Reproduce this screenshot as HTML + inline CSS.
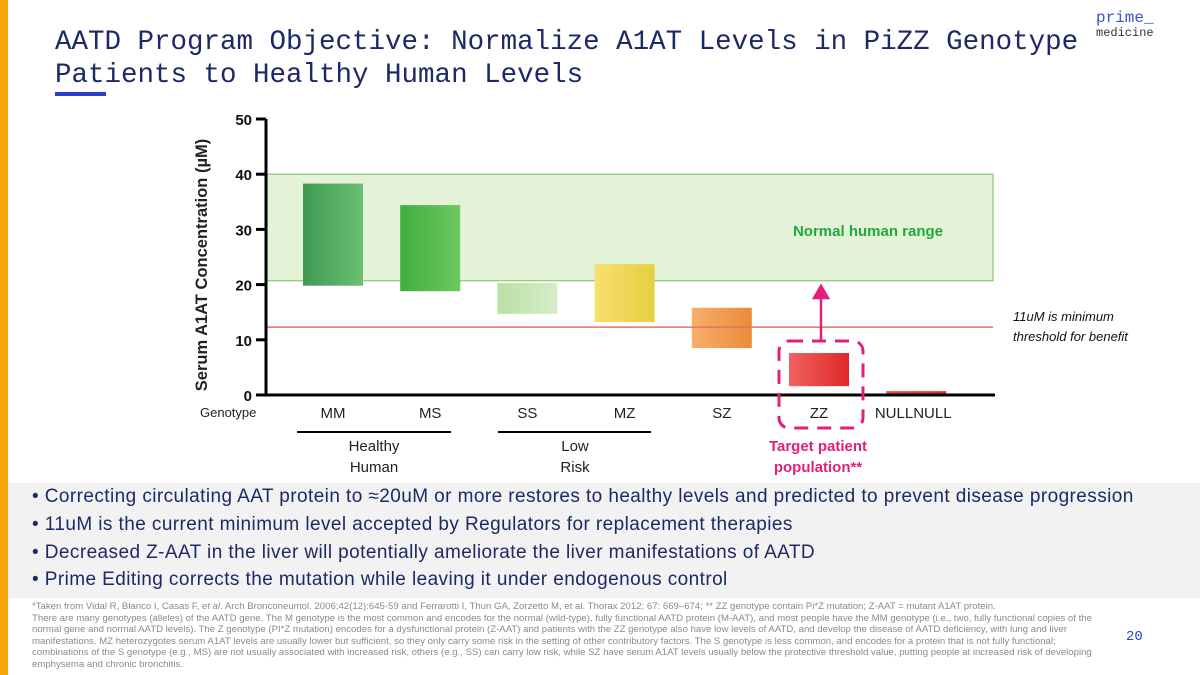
<!DOCTYPE html>
<html><head><meta charset="utf-8"><style>
body{margin:0;width:1200px;height:675px;position:relative;background:#fff;font-family:"Liberation Sans",sans-serif;overflow:hidden}
.abs{position:absolute}
#title{left:55px;top:26px;font-family:"Liberation Mono",monospace;font-size:27.5px;line-height:33px;color:#1b2a66;margin:0;font-weight:normal}
.bul{left:32px;font-size:19px;color:#1b2a66;white-space:nowrap;letter-spacing:0.42px}
#foot{left:32px;top:601px;width:1082px;font-size:9.6px;line-height:11.6px;color:#8a8a8a}
</style></head><body>
<div class="abs" style="left:0;top:0;width:8px;height:675px;background:#f5a30a"></div>
<h1 id="title" class="abs">AATD Program Objective: Normalize A1AT Levels in PiZZ Genotype<br>Patients to Healthy Human Levels</h1>
<div class="abs" style="left:55px;top:92px;width:51px;height:4px;background:#2a3fd0"></div>
<div class="abs" style="left:1096px;top:11px;font-family:'Liberation Mono',monospace;line-height:15px">
<div style="color:#3b4fd8;font-size:16px">prime_</div><div style="color:#333;font-size:12px">medicine</div></div>
<div class="abs" style="left:8px;top:483px;width:1192px;height:115px;background:#f2f2f2"></div>
<div class="abs bul" style="top:486px">• Correcting circulating AAT protein to ≈20uM or more restores to healthy levels and predicted to prevent disease progression</div>
<div class="abs bul" style="top:514px">• 11uM is the current minimum level accepted by Regulators for replacement therapies</div>
<div class="abs bul" style="top:542px">• Decreased Z-AAT in the liver will potentially ameliorate the liver manifestations of AATD</div>
<div class="abs bul" style="top:569px">• Prime Editing corrects the mutation while leaving it under endogenous control</div>
<div id="foot" class="abs">*Taken from Vidal R, Blanco I, Casas F, <i>et al</i>. Arch Bronconeumol. 2006;42(12):645-59 and Ferrarotti I, Thun GA, Zorzetto M, et al. Thorax 2012; 67: 669–674; ** ZZ genotype contain Pi*Z mutation; Z-AAT = mutant A1AT protein.<br>There are many genotypes (alleles) of the AATD gene. The M genotype is the most common and encodes for the normal (wild-type), fully functional AATD protein (M-AAT), and most people have the MM genotype (i.e., two, fully functional copies of the normal gene and normal AATD levels). The Z genotype (PI*Z mutation) encodes for a dysfunctional protein (Z-AAT) and patients with the ZZ genotype also have low levels of AATD, and develop the disease of AATD deficiency, with lung and liver manifestations. MZ heterozygotes serum A1AT levels are usually lower but sufficient, so they only carry some risk in the setting of other contributory factors. The S genotype is less common, and encodes for a protein that is not fully functional; combinations of the S genotype (e.g., MS) are not usually associated with increased risk, others (e.g., SS) can carry low risk, while SZ have serum A1AT levels usually below the protective threshold value, putting people at increased risk of developing emphysema and chronic bronchitis.</div>
<div class="abs" style="left:1126px;top:629px;font-family:'Liberation Mono',monospace;font-size:14px;color:#2a3fd0">20</div>
<svg id="chart" class="abs" style="left:0;top:0" width="1200" height="483"></svg>
<script>
const categories=["MM","MS","SS","MZ","SZ","ZZ","NULLNULL"];
const highs=[38.3,34.4,20.3,23.7,15.8,7.6,0.7];
const lows=[19.8,18.8,14.7,13.2,8.5,1.6,0];
const yTicks=[0,10,20,30,40,50];
const rangeLow=20.7, rangeHigh=40, threshold=12.3;
const colors=[["#3f9a52","#6bbf73"],["#3fae3f","#70c760"],["#b9e0a8","#d5edc6"],["#f6e070","#e6cf3e"],["#f6b06a","#ec8a3a"],["#f06060","#e02828"],["#ee4a4a","#e03030"]];
const svg=document.getElementById('chart');const NS="http://www.w3.org/2000/svg";
const y=v=>395-v*5.52;const xc=i=>333+i*97.2;
function mk(t,a,p){const e=document.createElementNS(NS,t);for(const k in a)e.setAttribute(k,a[k]);(p||svg).appendChild(e);return e}
const defs=mk('defs',{});
colors.forEach((c,i)=>{const g=mk('linearGradient',{id:'g'+i,x1:0,x2:1,y1:0,y2:0},defs);mk('stop',{offset:0,'stop-color':c[0]},g);mk('stop',{offset:1,'stop-color':c[1]},g);});
let r=mk('rect',{x:267,y:y(rangeHigh),width:726,height:y(rangeLow)-y(rangeHigh),fill:'#e4f2d8',stroke:'#8cc870','stroke-width':1.2});

let t=mk('text',{x:943,y:236,'text-anchor':'end','font-size':15,'font-weight':'bold',fill:'#22a83a'});t.textContent='Normal human range';

categories.forEach((c,i)=>{
 const b=mk('rect',{x:xc(i)-30,y:y(highs[i]),width:60,height:Math.max(2,y(lows[i])-y(highs[i])),fill:'url(#g'+i+')'});
 
 const l=mk('text',{x:xc(i)-(i==6?3:0),y:418,'text-anchor':'middle','font-size':15,fill:'#222'});l.textContent=c;
 
});
let th=mk('line',{x1:267,x2:993,y1:y(threshold),y2:y(threshold),stroke:'#e07070','stroke-width':1.5});

let ax=mk('path',{d:`M266 ${y(50)} V${y(0)} H995`,stroke:'#000','stroke-width':3,fill:'none'});

yTicks.forEach(v=>{mk('line',{x1:256,x2:266,y1:y(v),y2:y(v),stroke:'#000','stroke-width':3});
 const l=mk('text',{x:252,y:y(v)+6,'text-anchor':'end','font-size':15,'font-weight':'bold',fill:'#111'});l.textContent=v;
 });
let yt=mk('text',{transform:'translate(207,265) rotate(-90)','text-anchor':'middle','font-size':16.5,'font-weight':'bold',fill:'#222'});yt.textContent='Serum A1AT Concentration (µM)';

let gt=mk('text',{x:200,y:417,'font-size':13,fill:'#222'});gt.textContent='Genotype';

let tb=mk('rect',{x:779,y:341,width:84,height:87,rx:10,fill:'none',stroke:'#e0207a','stroke-width':3,'stroke-dasharray':'14 9'});

let ar=mk('path',{d:'M821 341 V292 M814 298 L821 286 L828 298 Z',stroke:'#e0207a','stroke-width':2.5,fill:'#e0207a'});

[['11uM is minimum',321],['threshold for benefit',341]].forEach((s,k)=>{const e=mk('text',{x:1013,y:s[1],'font-size':13,'font-style':'italic',fill:'#111'});e.textContent=s[0];
 });
mk('line',{x1:297,x2:451,y1:432,y2:432,stroke:'#000','stroke-width':2});
mk('line',{x1:498,x2:651,y1:432,y2:432,stroke:'#000','stroke-width':2});
[['Healthy',374,451,'#222',false],['Human',374,472,'#222',false],['Low',575,451,'#222',false],['Risk',575,472,'#222',false],['Target patient',818,451,'#e0207a',true],['population**',818,472,'#e0207a',true]].forEach((s,k)=>{
 const e=mk('text',{x:s[1],y:s[2],'text-anchor':'middle','font-size':15,fill:s[3],'font-weight':s[4]?'bold':'normal'});e.textContent=s[0];
 });
</script>
</body></html>
